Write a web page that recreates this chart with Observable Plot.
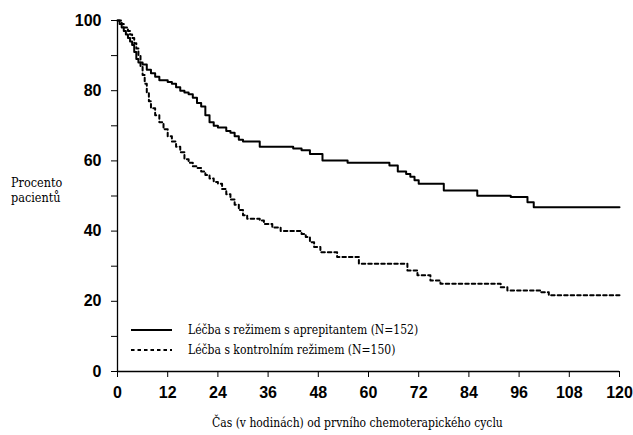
<!DOCTYPE html>
<html>
<head>
<meta charset="utf-8">
<script src="https://cdn.jsdelivr.net/npm/d3@7"></script>
<script src="https://cdn.jsdelivr.net/npm/@observablehq/plot@0.6"></script>
<style>
  html, body { margin: 0; padding: 0; background: #fff; }
  #wrap { position: relative; width: 633px; height: 435px; color: #000; }
  .serif { font-family: "DejaVu Serif Condensed", "DejaVu Serif", serif; font-stretch: condensed; }
  .lbl { position: absolute; font-size: 12px; line-height: 15px; white-space: nowrap; }
  #legend { position: absolute; left: 131px; top: 320px; font-size: 12px; }
  #legend .row { display: flex; align-items: center; height: 20px; }
  #legend svg { margin-right: 16px; }
</style>
</head>
<body>
<div id="wrap">
  <div id="chart"></div>
  <div class="lbl serif" style="left:11px; top:175px; font-size:12.5px;">Procento<br>pacientů</div>
  <div class="lbl serif" style="left:212px; top:416px;">Čas (v hodinách) od prvního chemoterapického cyclu</div>
  <div id="legend" class="serif"></div>
</div>
<script>
// Series names
const seriesNames = ["Léčba s režimem s aprepitantem (N=152)", "Léčba s kontrolním režimem (N=150)"];

// Aprepitant regimen (solid)
const aprepHours = [0,0.5,1,1.5,2,2.5,3,3.5,4,4.5,5,6,7,8,9,10,12,13,14,15,16,17,18,19,20,21,22,23,24,26,27,28,29,30,34,42,44,46,49,55,65,67,69,70,71,72,78,86,94,98,99.5,120];
const aprepPct   = [100,99,98,97,96,95,94,93,91,89,88,87.5,86,85,84,83,82.5,82,81,80,79.5,79,78,76.5,75.5,73,71,70,69.5,68.5,68,67,66,65.5,64,63.5,63,62,60.1,59.5,58.7,57,56.3,55.5,54.5,53.5,51.6,50.1,49.7,48.2,46.8,46.8];

// Control regimen (dashed)
const ctrlHours = [0,1,1.5,2.5,3,3.5,4,4.5,5,5.5,6,6.5,7,7.5,8,9,10,11,12,13,14,15,16,17,18,19,20,21,22,23,24,25,26,27,28,29,30,31,34,35,37,39,44,45,46,47,48.5,52.5,57.7,69.3,71.7,74.8,77.2,91.6,93.2,101.1,103.1,120];
const ctrlPct   = [100,99,98,97,96,95,93.5,92,90,87,84.5,82,79.5,77,75,73,71,69,67,65.5,64,62.5,60.5,59.5,58.5,58,57,56,55,54,53.5,52,50.5,49,47.5,46,44.5,43.5,43,42,41,40,39.2,38.3,36.8,35.5,34,32.6,30.7,28.8,27.4,25.9,25,24,23.1,22.6,21.7,21.7];

// Tick values
const xTicks = [0,12,24,36,48,60,72,84,96,108,120];
const yTicks = [0,20,40,60,80,100];
const yMinorTicks = [10,30,50,70,90];

const aprep = aprepHours.map((h, i) => ({h, p: aprepPct[i]}));
const ctrl = ctrlHours.map((h, i) => ({h, p: ctrlPct[i]}));

const chart = Plot.plot({
  width: 633,
  height: 435,
  marginLeft: 117,
  marginRight: 14,
  marginTop: 20,
  marginBottom: 64,
  style: {fontFamily: "Arial, 'Liberation Sans', sans-serif", fontSize: "16px", fontWeight: "bold", color: "#000", background: "#fff"},
  x: {domain: [0, 120]},
  y: {domain: [0, 100]},
  marks: [
    Plot.axisX({ticks: xTicks, tickSize: 6, tickPadding: 9, label: null, stroke: "#000", strokeWidth: 1}),
    Plot.axisY({ticks: yTicks, tickSize: 6, tickPadding: 10, label: null, stroke: "#000", strokeWidth: 1}),
    Plot.axisY({ticks: yMinorTicks, tickSize: 6, text: null, label: null, stroke: "#000", strokeWidth: 1}),
    Plot.ruleX([0], {stroke: "#000", strokeWidth: 1.3}),
    Plot.ruleY([0], {stroke: "#000", strokeWidth: 1.3}),
    Plot.line(ctrl, {x: "h", y: "p", curve: "step-after", stroke: "#000", strokeWidth: 2, strokeDasharray: "3.5,3"}),
    Plot.line(aprep, {x: "h", y: "p", curve: "step-after", stroke: "#000", strokeWidth: 2})
  ]
});
document.getElementById("chart").appendChild(chart);

// Legend
const legend = d3.select("#legend");
const dashes = [null, "3.5,3"];
seriesNames.forEach((name, i) => {
  const row = legend.append("div").attr("class", "row");
  const s = row.append("svg").attr("width", 41).attr("height", 6);
  s.append("line").attr("x1", 0).attr("x2", 41).attr("y1", 3).attr("y2", 3)
    .attr("stroke", "#000").attr("stroke-width", 2)
    .attr("stroke-dasharray", dashes[i]);
  row.append("span").text(name);
});
</script>
</body>
</html>
